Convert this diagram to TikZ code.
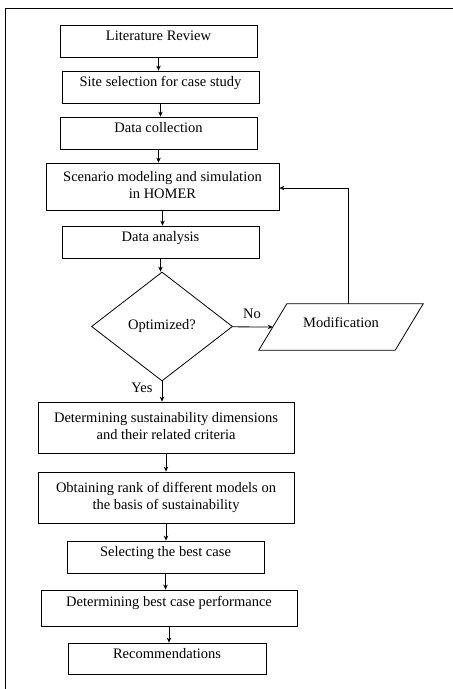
\documentclass[tikz,border=0pt]{standalone}
\usepackage{fontspec}
\setmainfont{Liberation Serif}
\usetikzlibrary{shapes.geometric,arrows.meta}
\begin{document}
\begin{tikzpicture}
[x=1pt,y=-1pt,
  boxDecorate/.style={shape=rectangle,draw,line width=0.8pt,align=center,inner sep=0pt},
  lineDecorate/.style={-{Stealth[length=5pt,width=4.5pt]},line width=0.8pt},
  textDecorate/.style={font=\fontsize{14.5}{17.5}\selectfont}]
\useasboundingbox (0,0) rectangle (453,689);
%% frame
\draw[line width=0.8pt] (5,689) -- (5,8) -- (453,8);
%% process boxes
\foreach \nodename/\x/\y/\w/\h/\d/\caption in {
  lit/158.5/41/197/32/11/{Literature Review},
  site/160.5/87/197/32/11/{Site selection for case study},
  data/158.5/133/197/32/11/{Data collection},
  scen/162.5/186.5/233/47/3/{Scenario modeling and simulation\\in HOMER},
  anal/160.5/242/197/32/11/{Data analysis},
  dims/166/427.5/256/51/3/{Determining sustainability dimensions\\and their related criteria},
  rank/166/497.5/256/51/3/{Obtaining rank of different models on\\the basis of sustainability},
  best/165.5/557/197/32/11/{Selecting the best case},
  perf/169/608/256/36/13/{Determining best case performance},
  recs/167/658.5/198/31/11/{Recommendations}}
{
  \node (\nodename) at (\x,\y) [boxDecorate,textDecorate,text depth=\d pt,
    minimum width=\w pt,minimum height=\h pt] {\caption};
}
%% decision and modification
\node (opt) at (162,326.5) [shape=diamond,draw,line width=0.8pt,inner sep=0pt,
  minimum width=141pt,minimum height=109pt,textDecorate] {Optimized?};
\node (mod) at (341,327) [inner sep=0pt,minimum width=136pt,minimum height=46pt,
  textDecorate,text depth=9pt] {Modification};
\draw[line width=0.8pt] ([xshift=14pt]mod.north west) -- ([xshift=14pt]mod.north east)
  -- ([xshift=-14pt]mod.south east) -- ([xshift=-14pt]mod.south west) -- cycle;
%% edges
\path
\foreach \startnode/\endnode in {
  lit/site, site/data, data/scen, scen/anal, anal/opt,
  opt/dims, dims/rank, rank/best, best/perf, perf/recs}
{
  (\startnode) edge[lineDecorate] (\startnode |- \endnode.north)
};
\draw[lineDecorate] (opt) -- (mod.west);
\coordinate (turn) at (348,188);
\draw[lineDecorate] (turn |- mod.north) -- (turn) -- (turn -| scen.east);
%% labels
\node at (252,314) [textDecorate] {No};
\node at (142,388) [textDecorate] {Yes};
\end{tikzpicture}
\end{document}
